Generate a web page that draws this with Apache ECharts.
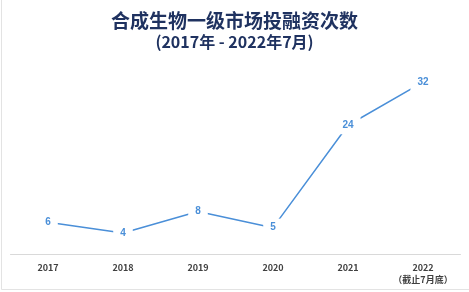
<!DOCTYPE html>
<html><head><meta charset="utf-8">
<script src="https://cdn.jsdelivr.net/npm/echarts@6/dist/echarts.min.js"></script>
<style>html,body{margin:0;padding:0;background:#fff}#c{width:469px;height:292px}</style>
</head><body><div id="c"></div>
<script>
var categories = ['2017', '2018', '2019', '2020', '2021', '2022\n（截止7月底）'];
var counts = [6, 4, 8, 5, 24, 32];
var titleText = '合成生物一级市场投融资次数';
var subtitleText = '(2017年 - 2022年7月)';

var chart = echarts.init(document.getElementById('c'));
chart.setOption({
  animation: false,
  title: {
    text: titleText,
    subtext: subtitleText,
    left: 'center', top: 6, itemGap: 4,
    textStyle: {
      fontFamily: 'Noto Sans CJK SC', fontWeight: 'bold', fontSize: 19,
      color: '#1f3260'
    },
    subtextStyle: {
      fontFamily: 'Noto Sans CJK SC', fontWeight: 'bold', fontSize: 16,
      color: '#1f3260'
    }
  },
  graphic: [
    {type: 'line', shape: {x1: 1.5, y1: 0, x2: 1.5, y2: 289.5}, style: {stroke: '#e3e3e3', lineWidth: 1}},
    {type: 'line', shape: {x1: 1.5, y1: 289.5, x2: 469, y2: 289.5}, style: {stroke: '#e3e3e3', lineWidth: 1}}
  ],
  grid: {left: 10.5, right: 8.5, top: 66, bottom: 37.4, containLabel: false},
  xAxis: {
    type: 'category', data: categories, boundaryGap: true,
    axisLine: {lineStyle: {color: '#d9d9d9', width: 1}},
    axisTick: {show: false},
    axisLabel: {
      color: '#404040', fontWeight: 'bold', fontSize: 9,
      fontFamily: 'Noto Sans CJK SC', margin: 7, lineHeight: 12, interval: 0,
      rich: {}
    }
  },
  yAxis: {
    type: 'value', min: 0, max: 35, show: false,
    splitLine: {show: false}
  },
  series: [{
    type: 'line', data: counts, symbol: 'circle', symbolSize: 2, showSymbol: true,
    itemStyle: {color: 'rgba(0,0,0,0)', borderWidth: 0},
    lineStyle: {color: '#4a8fd8', width: 1.5},
    label: {
      show: true, position: 'inside', color: '#4a8fd8', fontWeight: 'bold',
      fontSize: 10, fontFamily: 'Liberation Sans',
      backgroundColor: '#fff', padding: [4, 7]
    }
  }]
});
</script></body></html>
